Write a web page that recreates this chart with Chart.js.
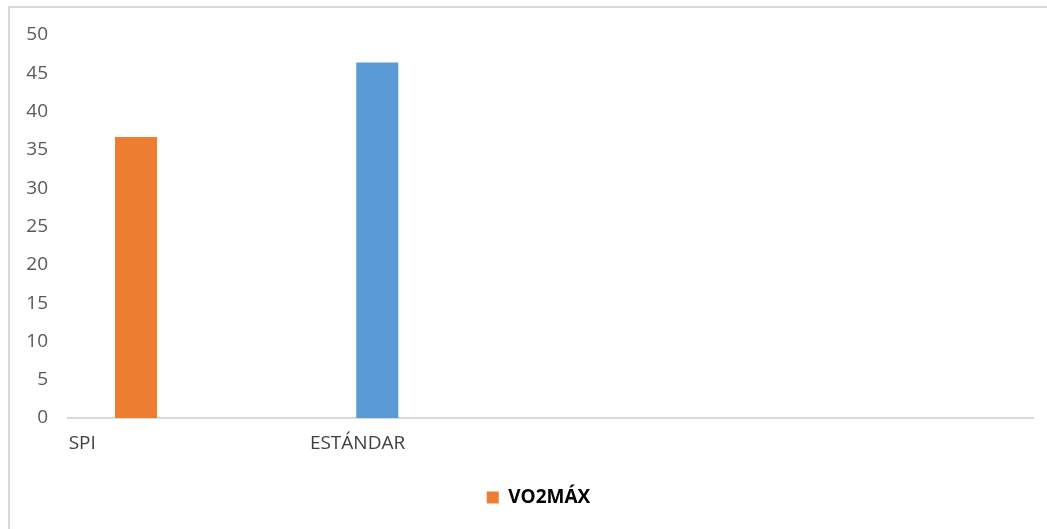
<!DOCTYPE html>
<html lang="es">
<head>
<meta charset="utf-8">
<title>VO2MÁX</title>
<script src="https://cdn.jsdelivr.net/npm/chart.js@4.4.1/dist/chart.umd.min.js"></script>
<style>
  html, body { margin: 0; padding: 0; background: #fff; overflow: hidden; }
  .frame {
    position: absolute; left: 8px; top: 6px;
    width: 1200px; height: 700px;
    border-top: 2px solid #d9d9d9; border-left: 2px solid #d9d9d9;
  }
  .wrap { position: absolute; left: 0; top: 0; width: 1047px; height: 529px; }
</style>
</head>
<body>
<div class="frame"></div>
<div class="wrap"><canvas id="vo2Chart"></canvas></div>
<script>
// categories and values
const categories = ["SPI", "ESTÁNDAR", "", ""];
const vo2max = [36.7, 46.4, null, null];
const barColors = ["#ED7D31", "#5B9BD5"];
const yTicks = { min: 0, max: 50, step: 5 };

const font = "'Open Sans', 'DejaVu Sans', sans-serif";

// legend sits a bit right of the canvas centre
const legendShift = {
  id: "legendShift",
  afterLayout(chart) {
    chart.legend.left += 44;
  }
};

new Chart(document.getElementById("vo2Chart"), {
  type: "bar",
  data: {
    labels: categories,
    datasets: [
      {
        label: "VO2MÁX",
        data: vo2max,
        backgroundColor: barColors,
        barPercentage: 0.4,
        categoryPercentage: 0.872
      },
      {
        // empty second slot keeps the bars on the left side of each category
        label: "",
        data: categories.map(() => null),
        barPercentage: 0.4,
        categoryPercentage: 0.872
      }
    ]
  },
  options: {
    responsive: true,
    maintainAspectRatio: false,
    animation: false,
    layout: { padding: { left: 0, top: 35, right: 14, bottom: 12 } },
    plugins: {
      tooltip: { enabled: false },
      legend: {
        position: "bottom",
        labels: {
          filter: item => item.text !== "",
          boxWidth: 12,
          boxHeight: 12,
          padding: 10,
          color: "#000",
          font: { family: font, size: 19, weight: "bold" }
        }
      }
    },
    scales: {
      x: {
        grid: { display: false, drawTicks: false },
        border: { display: true, color: "#d9d9d9", width: 2 },
        ticks: {
          align: "start",
          labelOffset: -120,
          maxRotation: 0,
          autoSkip: false,
          padding: 14,
          color: "#404040",
          font: { family: font, size: 19 }
        },
        afterFit: s => { s.height = 60; }
      },
      y: {
        min: yTicks.min,
        max: yTicks.max,
        grid: { display: false, drawTicks: false },
        border: { display: false },
        ticks: {
          stepSize: yTicks.step,
          padding: 20,
          color: "#595959",
          font: { family: font, size: 19 }
        },
        afterFit: s => { s.width = 68; }
      }
    }
  },
  plugins: [legendShift]
});
</script>
</body>
</html>
